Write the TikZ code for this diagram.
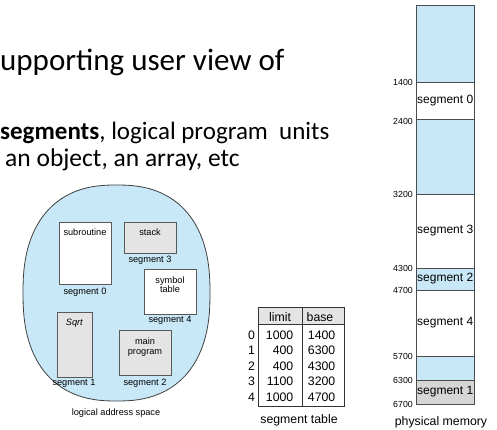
\documentclass[tikz,border=0pt]{standalone}
\usepackage{fontspec}
\setmainfont{Carlito}
\newfontfamily\arialfont{Liberation Sans}
\definecolor{memblue}{RGB}{200,232,248}
\definecolor{boxgray}{RGB}{228,228,228}
\definecolor{memgray}{RGB}{214,214,214}

\begin{document}
\begin{tikzpicture}[x=1pt,y=-1pt,
  heading/.style={anchor=base west,inner sep=0pt},
  seglabel/.style={font=\arialfont\fontsize{9.2}{9.4}\selectfont,inner sep=0pt,align=center},
  tablabel/.style={font=\arialfont\fontsize{12.3}{13}\selectfont,inner sep=0pt},
  memlabel/.style={font=\arialfont\fontsize{12}{13}\selectfont,inner sep=0pt,anchor=west},
  addr/.style={font=\arialfont\fontsize{8.8}{10}\selectfont,inner sep=0pt,anchor=east},
  segbox/.style={draw=black!65,line width=0.9pt}]
\useasboundingbox (0,0) rectangle (497,430);

% slide text
\node[heading,font=\fontsize{31}{31}\selectfont] (line1) at (0,71) {upporting user view of};
\node[heading,font=\fontsize{25}{26}\selectfont] (line2) at (0,140) {\textbf{segments}, logical program\ \ units};
\node[heading,font=\fontsize{25.5}{26}\selectfont] (line3) at (5,167) {an object, an array, etc};

% logical address space
\draw[fill=memblue,draw=black!75,line width=0.8pt]
  plot[variable=\t,domain=1:361,samples=120]
  ({116.5+93.5*sign(cos(\t))*abs(cos(\t))^0.83},{293+108*sign(sin(\t))*abs(sin(\t))^0.83}) -- cycle;
\draw[segbox,fill=white] (59,222) rectangle (111,284);
\draw[segbox,fill=boxgray] (124,222) rectangle (176,253);
\draw[segbox,fill=white] (144,269) rectangle (196,314);
\draw[segbox,fill=boxgray] (57,312) rectangle (92,377);
\draw[segbox,fill=boxgray] (119,330) rectangle (171,375);
\node[seglabel] (subr) at (85,232) {subroutine};
\node[seglabel] (stack) at (150,232) {stack};
\node[seglabel] (symtab) at (170,284.5) {symbol\\table};
\node[seglabel] (sqrt) at (74.5,323) {\textit{Sqrt}};
\node[seglabel] (mainprog) at (145,347) {main\\program};
\node[seglabel] (lseg0) at (85,292) {segment 0};
\node[seglabel] (lseg3) at (150,260) {segment 3};
\node[seglabel] (lseg4) at (170,320) {segment 4};
\node[seglabel] (lseg1) at (74,383) {segment 1};
\node[seglabel] (lseg2) at (145,383) {segment 2};
\node[seglabel] (logical) at (116,413) {logical address space};

% segment table
\fill[boxgray] (258,307) rectangle (344,324);
\draw[black!80,line width=0.7pt] (258,307) rectangle (344,406);
\draw[black!80,line width=0.7pt] (258,324) -- (344,324);
\draw[black!80,line width=0.7pt] (302,307) -- (302,406);
\node[tablabel,anchor=base] (limit) at (280,321) {limit};
\node[tablabel,anchor=base] (base) at (320,321) {base};
\foreach \lim/\bas [count=\i from 0] in {1000/1400,400/6300,400/4300,1100/3200,1000/4700} {
  \node[tablabel] (row\i) at (251.5,335+15.5*\i) {\i};
  \node[tablabel,anchor=east] (lim\i) at (293.5,335+15.5*\i) {\lim};
  \node[tablabel,anchor=east] (bas\i) at (335.5,335+15.5*\i) {\bas};
}
\node[tablabel] (segtable) at (299,420) {segment table};

% physical memory
\foreach \top/\bot/\col in {5/82/memblue,82/119/white,119/194/memblue,194/268/white,
  268/290/memblue,290/356/white,356/380/memblue,380/404/memgray}
  \filldraw[fill=\col,draw=black!70,line width=0.8pt] (416,\top) rectangle (474,\bot);
\node[memlabel] (pseg0) at (417,100.5) {segment 0};
\node[memlabel] (pseg3) at (417,231) {segment 3};
\node[memlabel] (pseg2) at (417,279) {segment 2};
\node[memlabel] (pseg4) at (417,323) {segment 4};
\node[memlabel] (pseg1) at (417,392) {segment 1};
\foreach \yy/\lab in {82/1400,121/2400,194/3200,268/4300,290/4700,356/5700,380/6300,404/6700}
  \node[addr] (a\lab) at (413,\yy) {\lab};
\node[tablabel] (physical) at (441,422) {physical memory};
\end{tikzpicture}
\end{document}
